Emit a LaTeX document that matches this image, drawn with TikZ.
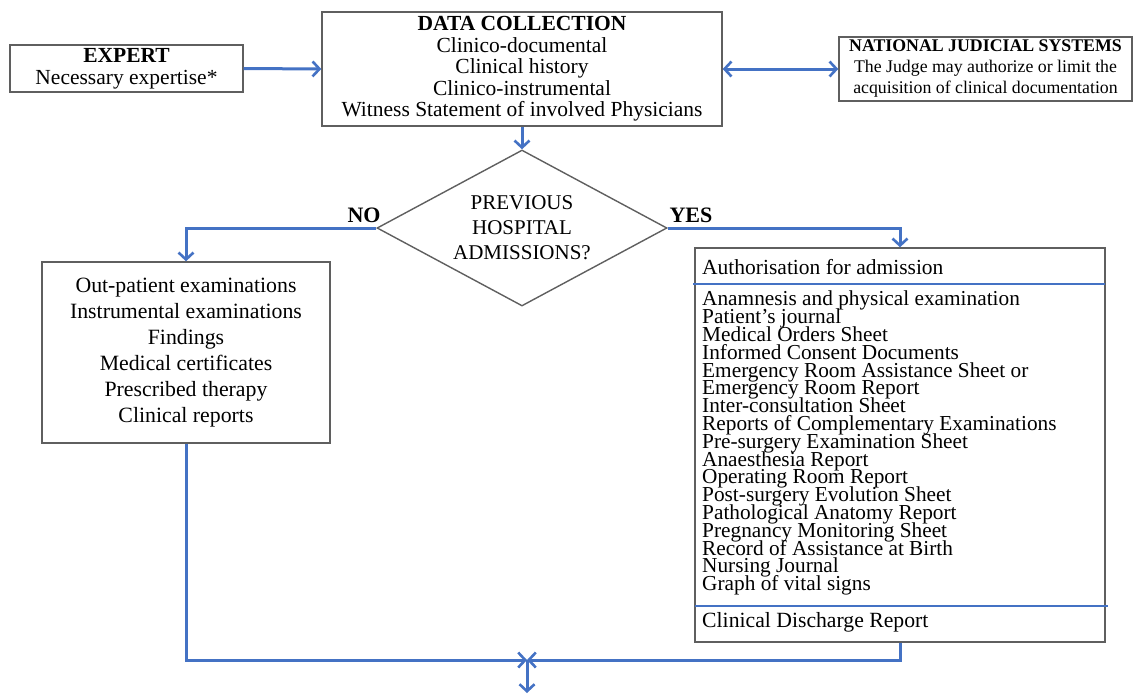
\documentclass[tikz,border=0pt]{standalone}
\usepackage{fontspec}
\setmainfont{Liberation Serif}
\usetikzlibrary{shapes.geometric,arrows.meta}
\definecolor{flowblue}{RGB}{68,114,196}
\definecolor{boxgray}{RGB}{95,95,95}
\newcommand{\flowfont}[2]{\fontsize{#1}{#2}\selectfont\lineskiplimit=-50pt\lineskip=0pt\relax}
\begin{document}
\begin{tikzpicture}[x=1pt, y=-1pt,
	box/.style = {draw = boxgray, line width = 1.4pt, inner sep = 0pt, align = center},
	flow/.style = {draw = flowblue, line width = 3pt, -{Straight Barb[length = 7pt, width = 15pt, line width = 2.6pt]}},
	sepline/.style = {draw = flowblue, line width = 1.3pt}]
\useasboundingbox (0,0) rectangle (1134,693);

% Kopfzeile
\node[box, minimum width = 233, minimum height = 47, font = \flowfont{21.5}{22}]
	(expert) at (126.5,68.5) {\textbf{EXPERT}\\Necessary expertise*};
\node[box, minimum width = 400, minimum height = 114, font = \flowfont{21.5}{21.5}]
	(data) at (522,69) {\textbf{DATA COLLECTION}\\Clinico-documental\\Clinical history\\Clinico-instrumental\\Witness Statement of involved Physicians};
\node[box, minimum width = 293, minimum height = 64, font = \flowfont{17.8}{21}]
	(nat) at (985.5,69) {\textbf{NATIONAL JUDICIAL SYSTEMS}\\The Judge may authorize or limit the\\acquisition of clinical documentation};

% Entscheidung
\node[box, shape = diamond, shape aspect = 1.86, minimum width = 290, minimum height = 156, font = \flowfont{21}{25}]
	(dec) at (522,228) {PREVIOUS\\HOSPITAL\\ADMISSIONS?};
\node[font = \fontsize{22}{22}\selectfont\bfseries] (no) at (364,215) {NO};
\node[font = \fontsize{22}{22}\selectfont\bfseries] (yes) at (691,215) {YES};

% Ambulant
\node[box, minimum width = 288, minimum height = 181, font = \flowfont{21.8}{26}]
	(outpat) at (186,352.5) {Out-patient examinations\\Instrumental examinations\\Findings\\Medical certificates\\Prescribed therapy\\Clinical reports};

% Stationaer
\node[box, minimum width = 410, minimum height = 394] (adm) at (900,445) {};
\draw[sepline] (693,284) -- (1105,284);
\draw[sepline] (695,606) -- (1108,606);
\node[anchor = west, inner sep = 0pt, font = \flowfont{21.5}{21}]
	(auth) at (702,267) {Authorisation for admission};
\node[anchor = north west, inner sep = 0pt, align = left, font = \flowfont{21.3}{17.8}]
	(docs) at (702,291) {Anamnesis and physical examination\\Patient's journal\\Medical Orders Sheet\\Informed Consent Documents\\Emergency Room Assistance Sheet or\\Emergency Room Report\\Inter-consultation Sheet\\Reports of Complementary Examinations\\Pre-surgery Examination Sheet\\Anaesthesia Report\\Operating Room Report\\Post-surgery Evolution Sheet\\Pathological Anatomy Report\\Pregnancy Monitoring Sheet\\Record of Assistance at Birth\\Nursing Journal\\Graph of vital signs};
\node[anchor = west, inner sep = 0pt, font = \flowfont{21.7}{21}]
	(disch) at (702,622) {Clinical Discharge Report};

% Pfeile
\coordinate (merge) at (527,660);
\coordinate (out) at (527,693);
\draw[flow] (expert.east) -- (data.west);
\draw[flow, {Straight Barb[length = 7pt, width = 15pt, line width = 2.6pt]}-{Straight Barb[length = 7pt, width = 15pt, line width = 2.6pt]}]
	(data.east) -- (nat.west);
\draw[flow] (data.south) -- (dec.north);
\draw[flow] (dec.west) -| (outpat.north);
\draw[flow] (dec.east) -| (adm.north);
\draw[flow] (outpat.south) |- (merge);
\draw[flow] (adm.south) |- (merge);
\draw[flow] (merge) -- (out);

\end{tikzpicture}
\end{document}
